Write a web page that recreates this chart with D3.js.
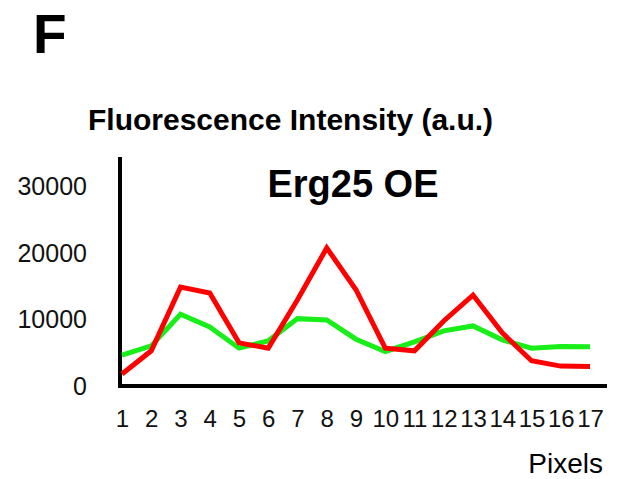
<!DOCTYPE html>
<html>
<head>
<meta charset="utf-8">
<script src="https://cdn.jsdelivr.net/npm/d3@7"></script>
<style>
  body { margin: 0; background: #fff; }
  svg { display: block; font-family: "Liberation Sans", Arial, sans-serif; }
  .tick text { fill: #111; }
</style>
</head>
<body>
<svg class="chart" width="617" height="479"></svg>
<script>
// pixel positions along the profile
const pixels = [1, 2, 3, 4, 5, 6, 7, 8, 9, 10, 11, 12, 13, 14, 15, 16, 17];
// red channel
const redValues = [1800, 5300, 14900, 14000, 6500, 5700, 13000, 20800, 14500, 5700, 5300, 9800, 13700, 8000, 3800, 3000, 2950];
// green channel
const greenValues = [4650, 6050, 10800, 8900, 5700, 6800, 10150, 9950, 7050, 5200, 6650, 8300, 9050, 6950, 5700, 5950, 5900];
const yTicks = [0, 10000, 20000, 30000];

const svg = d3.select(".chart");

const x = d3.scaleLinear().domain([1, 17]).range([122, 590]);
const y = d3.scaleLinear().domain([0, 34500]).range([386, 157]);

// panel letter and labels
svg.append("text")
    .attr("x", 33).attr("y", 53)
    .attr("font-size", 55).attr("font-weight", "bold")
    .text("F");

svg.append("text")
    .attr("x", 88).attr("y", 130)
    .attr("font-size", 30).attr("font-weight", "bold")
    .text("Fluorescence Intensity (a.u.)");

svg.append("text")
    .attr("x", 353).attr("y", 197)
    .attr("text-anchor", "middle")
    .attr("font-size", 38).attr("font-weight", "bold")
    .text("Erg25 OE");

svg.append("text")
    .attr("x", 603).attr("y", 473)
    .attr("text-anchor", "end")
    .attr("font-size", 28)
    .text("Pixels");

// axes
const yAxis = svg.append("g")
    .attr("transform", "translate(87,0)")
    .call(d3.axisLeft(y).tickValues(yTicks).tickFormat(d3.format("d")).tickSize(0).tickPadding(0));
yAxis.select(".domain").remove();
yAxis.selectAll("text").attr("font-size", 25).attr("font-family", null);

const xAxis = svg.append("g")
    .attr("transform", "translate(0,410)")
    .call(d3.axisBottom(x).tickValues(pixels).tickFormat(d3.format("d")).tickSize(0).tickPadding(0));
xAxis.select(".domain").remove();
xAxis.selectAll("text").attr("font-size", 24).attr("font-family", null);

svg.append("line")
    .attr("x1", 120).attr("x2", 120)
    .attr("y1", y.range()[1]).attr("y2", y(0) + 2)
    .attr("stroke", "#000").attr("stroke-width", 4);

svg.append("line")
    .attr("x1", 118).attr("x2", 607)
    .attr("y1", y(0)).attr("y2", y(0))
    .attr("stroke", "#000").attr("stroke-width", 4);

// profiles
const line = d3.line()
    .x((d, i) => x(pixels[i]))
    .y(d => y(d));

svg.append("path")
    .datum(greenValues)
    .attr("d", line)
    .attr("fill", "none")
    .attr("stroke", "#18ee18")
    .attr("stroke-width", 5)
    .attr("stroke-linejoin", "miter");

svg.append("path")
    .datum(redValues)
    .attr("d", line)
    .attr("fill", "none")
    .attr("stroke", "#ff0000")
    .attr("stroke-width", 5)
    .attr("stroke-linejoin", "miter");
</script>
</body>
</html>
